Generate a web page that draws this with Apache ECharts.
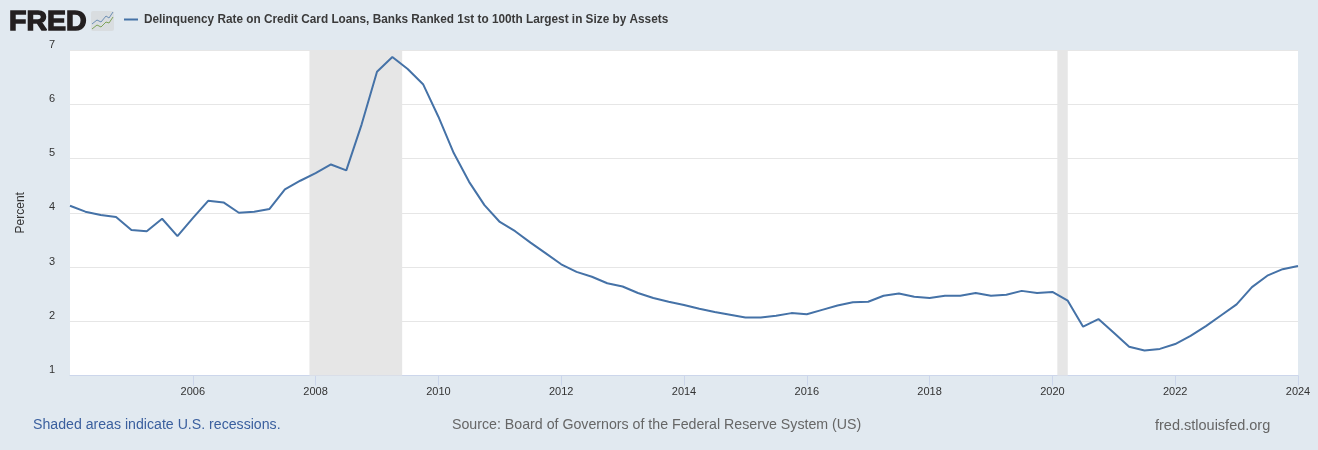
<!DOCTYPE html>
<html><head><meta charset="utf-8">
<style>html,body{margin:0;padding:0;background:#e1e9f0}#c{width:1318px;height:450px}</style>
<script src="https://cdn.jsdelivr.net/npm/echarts@6/dist/echarts.min.js"></script>
</head><body><div id="c"></div>
<script>
const seriesName = 'Delinquency Rate on Credit Card Loans, Banks Ranked 1st to 100th Largest in Size by Assets';
const startYear = 2004;
const rates = [
 4.13,4.02,3.96,3.92, 3.68,3.66,3.89,3.57, 3.90,4.22,4.19,4.00,
 4.02,4.07,4.43,4.59, 4.73,4.89,4.78,5.63, 6.60,6.87,6.65,6.37,
 5.77,5.10,4.57,4.14, 3.83,3.66,3.45,3.25, 3.05,2.91,2.82,2.70,
 2.64,2.52,2.43,2.36, 2.30,2.23,2.17,2.12, 2.07,2.07,2.10,2.15,
 2.13,2.21,2.29,2.35, 2.36,2.47,2.51,2.45, 2.43,2.47,2.47,2.52,
 2.47,2.49,2.56,2.52, 2.54,2.38,1.90,2.04, 1.79,1.53,1.46,1.49,
 1.58,1.73,1.91,2.11, 2.31,2.63,2.84,2.96, 3.02];
const recessions = [[2007.9,2009.41],[2020.08,2020.25]];
const footerLeft = 'Shaded areas indicate U.S. recessions.';
const footerMid = 'Source: Board of Governors of the Federal Reserve System (US)';
const footerRight = 'fred.stlouisfed.org';
const chartData = rates.map((v,i)=>[startYear+i/4,v]);
const sans = '"Liberation Sans",Arial,sans-serif';
const chart = echarts.init(document.getElementById('c'),null,{renderer:'canvas'});
chart.setOption({
 animation:false,
 backgroundColor:'#e1e9f0',
 grid:{left:70,right:20,top:50,height:325.5,backgroundColor:'#fff',show:true,borderWidth:0},
 xAxis:{type:'value',min:2004,max:2024,interval:2,
  axisLine:{show:true,onZero:false,lineStyle:{color:'#ccd6eb',width:1}},
  axisTick:{show:true,length:10,lineStyle:{color:'#ccd6eb'}},
  splitLine:{show:false},
  axisLabel:{margin:11,color:'#333',fontFamily:sans,fontSize:11,showMinLabel:false,formatter:v=>String(v)}},
 yAxis:{type:'value',min:1,max:7,interval:1,name:'Percent',nameLocation:'middle',nameGap:43,nameRotate:90,
  nameTextStyle:{color:'#333',fontFamily:sans,fontSize:12},
  axisLine:{show:false},axisTick:{show:false},
  splitLine:{show:true,lineStyle:{color:'#e6e6e6',width:1}},
  axisLabel:{margin:15,color:'#333',fontFamily:sans,fontSize:11,verticalAlign:'bottom',lineHeight:11,showMinLabel:true,showMaxLabel:true}},
 series:[{type:'line',name:seriesName,data:chartData,showSymbol:false,symbol:'none',
  lineStyle:{color:'#4572a7',width:2},itemStyle:{color:'#4572a7'},
  markArea:{silent:true,itemStyle:{color:'#e6e6e6'},data:recessions.map(r=>[{xAxis:r[0]},{xAxis:r[1]}])}}],
 graphic:[
  {type:'text',x:9,y:8,scaleX:1.02,style:{text:'FRED',fill:'#231f20',font:'900 28px "Liberation Sans",Arial',stroke:'#231f20',lineWidth:1.4}},
  {type:'group',x:91,y:11,children:[
    {type:'rect',shape:{x:0,y:0,width:23,height:20,r:2},style:{fill:'#d9dde0'}},
    {type:'polyline',shape:{points:[[1,13],[6,9],[10,11],[15,5],[18,7],[22,1]]},style:{stroke:'#6d8fb5',fill:null,lineWidth:1}},
    {type:'polyline',shape:{points:[[1,18],[6,14],[10,16],[15,11],[18,12],[22,6]]},style:{stroke:'#7ea35a',fill:null,lineWidth:1}}
  ]},
  {type:'line',shape:{x1:124,y1:19.5,x2:138,y2:19.5},style:{stroke:'#4572a7',lineWidth:2}},
  {type:'text',x:144,y:13,scaleX:0.907,style:{text:seriesName,fill:'#3a3a3a',font:'bold 13px "Liberation Sans",Arial'}},
  {type:'text',left:33,top:418,style:{text:footerLeft,fill:'#3a5f9e',font:'14.15px "Liberation Sans",Arial'}},
  {type:'text',left:452,top:418,style:{text:footerMid,fill:'#666',font:'14.2px "Liberation Sans",Arial'}},
  {type:'text',left:1155,top:418,style:{text:footerRight,fill:'#666',font:'14.5px "Liberation Sans",Arial'}}
 ]
});
</script></body></html>
